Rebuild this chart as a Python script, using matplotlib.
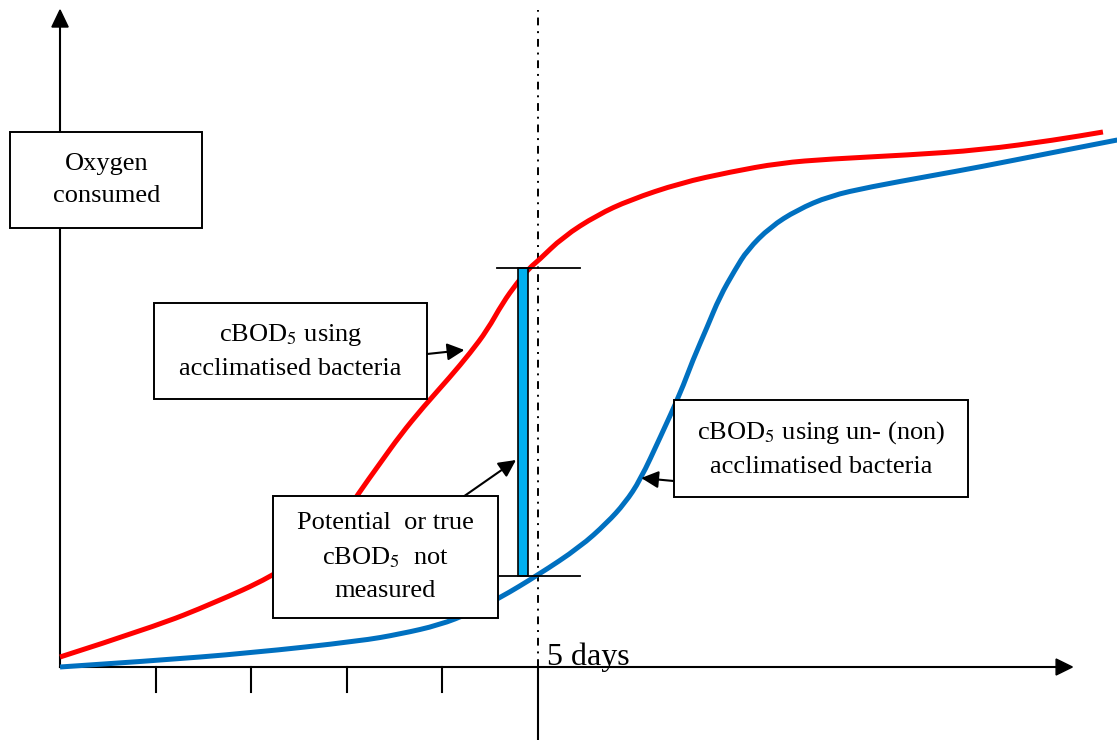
import matplotlib.pyplot as plt
from matplotlib.patches import Rectangle, Polygon, PathPatch
from matplotlib.path import Path

############################
#% DATA (x in days, y in arbitrary oxygen units)
############################
red_days = [0.00, 0.98, 1.61, 2.21, 2.62, 2.93, 3.11, 3.35, 3.56, 3.80, 4.08, 4.29,
            4.47, 4.63, 4.78, 4.92, 5.00, 5.26, 5.62, 5.96, 6.49, 7.01, 7.53, 8.05,
            8.87, 9.64, 10.41, 10.91]
red_oxygen = [0.10, 0.40, 0.64, 0.90, 1.17, 1.45, 1.72, 2.04, 2.32, 2.60, 2.90, 3.14,
              3.37, 3.64, 3.84, 4.00, 4.06, 4.30, 4.52, 4.67, 4.84, 4.95, 5.04, 5.08,
              5.12, 5.17, 5.27, 5.35]

blue_days = [0.00, 0.94, 1.99, 3.14, 3.56, 3.97, 4.29, 4.60, 5.00, 5.44, 5.72, 5.91,
             6.07, 6.28, 6.49, 6.62, 6.77, 6.90, 7.06, 7.19, 7.43, 7.71, 8.05, 8.47,
             9.10, 9.62, 10.36, 11.06]
blue_oxygen = [0.00, 0.06, 0.14, 0.26, 0.33, 0.42, 0.54, 0.69, 0.92, 1.20, 1.44, 1.64,
               1.87, 2.30, 2.74, 3.07, 3.40, 3.70, 3.97, 4.17, 4.40, 4.57, 4.71, 4.80,
               4.91, 5.00, 5.14, 5.27]

tick_days = [1, 2, 3, 4]
measure_day = 5
gap_low, gap_high = 0.91, 3.99   # oxygen at day 5: unacclimatised vs acclimatised

############################
#% SETTINGS
############################
plt.rcParams['font.family'] = ['Liberation Serif', 'DejaVu Serif']
plt.rcParams['mathtext.fontset'] = 'stix'
BOX_FS = 19
RED = '#FF0000'
BLUE = '#0070C0'
BAR = '#00B0F0'

fig = plt.figure(figsize=(11.17, 7.40), dpi=100)
ax = fig.add_axes([0, 0, 1, 1])
ax.set_xlim(-0.628, 11.057)
ax.set_ylim(-0.73, 6.67)
ax.axis('off')


def smooth_curve(xs, ys, color):
    # quadratic bezier through midpoints, read points act as control points
    verts = [(xs[0], ys[0])]
    codes = [Path.MOVETO]
    for i in range(1, len(xs) - 1):
        mid = ((xs[i] + xs[i + 1]) / 2, (ys[i] + ys[i + 1]) / 2)
        verts += [(xs[i], ys[i]), mid]
        codes += [Path.CURVE3, Path.CURVE3]
    verts.append((xs[-1], ys[-1]))
    codes.append(Path.LINETO)
    ax.add_patch(PathPatch(Path(verts, codes), fill=False, edgecolor=color,
                           lw=3.6, capstyle='butt', joinstyle='round', zorder=3))


# axes with arrow heads
ax.plot([0, 0], [0, 6.45], color='k', lw=1.5, zorder=2)
ax.add_patch(Polygon([[-0.085, 6.40], [0.085, 6.40], [0, 6.57]], closed=True,
                     color='k', zorder=2))
ax.plot([0, 10.45], [0, 0], color='k', lw=1.5, zorder=2)
ax.add_patch(Polygon([[10.42, 0.08], [10.42, -0.08], [10.59, 0]], closed=True,
                     color='k', zorder=2))
for d in tick_days:
    ax.plot([d, d], [0, -0.25], color='k', lw=1.5, zorder=2)
ax.plot([measure_day, measure_day], [0, -0.73], color='k', lw=1.5, zorder=2)
ax.plot([measure_day, measure_day], [0, 6.57], color='k', lw=1.4,
        dashes=(4, 3, 1, 3), zorder=2)
ax.text(measure_day + 0.09, 0.02, '5 days', fontsize=23, ha='left', va='baseline')

# curves
smooth_curve(red_days, red_oxygen, RED)
smooth_curve(blue_days, blue_oxygen, BLUE)

# gap bar with caps
ax.add_patch(Rectangle((4.79, gap_low), 0.105, gap_high - gap_low, facecolor=BAR,
                       edgecolor='k', lw=1.2, zorder=4))
for yv in (gap_low, gap_high):
    ax.plot([4.57, 5.44], [yv, yv], color='k', lw=1.3, zorder=4)


def label_box(x0, x1, y0, y1, text):
    ax.add_patch(Rectangle((x0, y0), x1 - x0, y1 - y0, facecolor='white',
                           edgecolor='k', lw=1.4, zorder=5))
    ax.text((x0 + x1) / 2, (y0 + y1) / 2, text, fontsize=BOX_FS, ha='center',
            va='center', linespacing=1.6, zorder=6)


label_box(-0.52, 1.49, 4.39, 5.35, 'Oxygen\nconsumed')
label_box(0.98, 3.84, 2.68, 3.64, 'cBOD$_5$ using\nacclimatised bacteria')
label_box(2.23, 4.58, 0.49, 1.71, 'Potential  or true\ncBOD$_5$  not\nmeasured')
label_box(6.42, 9.50, 1.70, 2.67, 'cBOD$_5$ using un- (non)\nacclimatised bacteria')

arrow = dict(arrowstyle='-|>', color='k', lw=1.5, mutation_scale=26,
             shrinkA=0, shrinkB=0)
ax.annotate('', xy=(4.23, 3.17), xytext=(3.84, 3.13), arrowprops=arrow, zorder=6)
ax.annotate('', xy=(4.77, 2.07), xytext=(4.23, 1.71), arrowprops=arrow, zorder=6)
ax.annotate('', xy=(6.08, 1.89), xytext=(6.42, 1.86), arrowprops=arrow, zorder=6)

fig.savefig('out.png', dpi=100)
